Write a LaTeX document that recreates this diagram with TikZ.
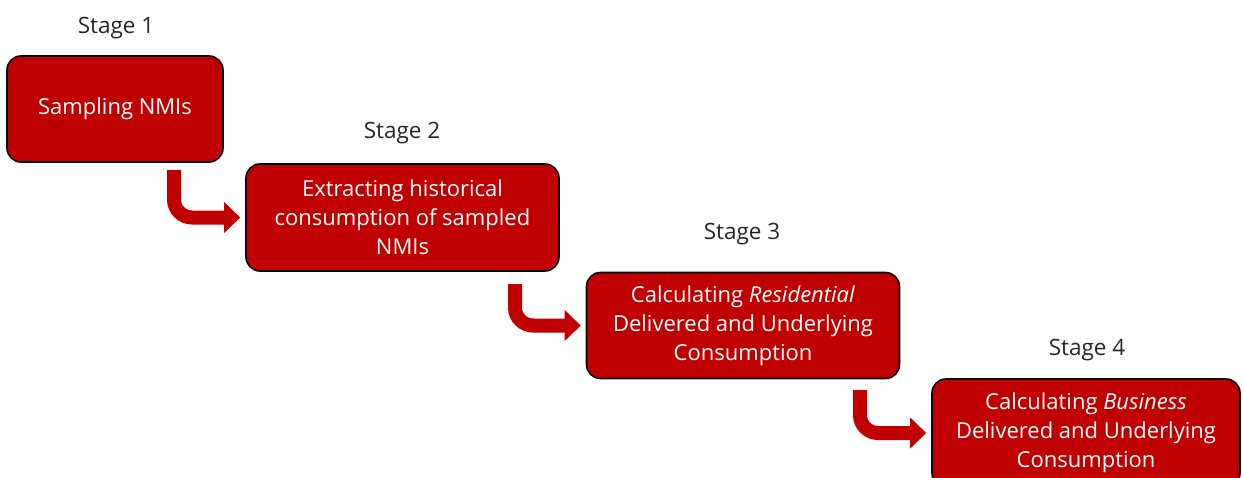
\documentclass[tikz,border=0pt]{standalone}
\usepackage{fontspec}
\setmainfont{Open Sans}
\usetikzlibrary{arrows.meta,calc}
\definecolor{boxred}{HTML}{C00000}
\definecolor{stagegray}{HTML}{262626}
\begin{document}
\begin{tikzpicture}[x=1pt,y=-1pt,
  stagebox/.style={draw=black, line width=1.6pt, fill=boxred, rounded corners=14pt,
    text=white, align=center, inner sep=0pt,
    font=\fontsize{22}{29}\selectfont},
  stagelabel/.style={text=stagegray, font=\fontsize{22.5}{26}\selectfont, inner sep=0pt},
  bentarrow/.style={draw=boxred, line width=14pt, rounded corners=18pt,
    -{Triangle[width=30pt,length=16pt]}}]
\useasboundingbox (0,0) rectangle (1243,477);
\clip (0,0) rectangle (1243,477);
\node[stagebox, minimum width=216pt, minimum height=106pt] (b1) at (115,109) {Sampling NMIs};
\node[stagebox, minimum width=313pt, minimum height=107pt] (b2) at (402.5,217.5) {Extracting historical\\consumption of sampled\\NMIs};
\node[stagebox, minimum width=313pt, minimum height=106pt] (b3) at (743,325.5) {Calculating \textit{Residential}\\Delivered and Underlying\\Consumption};
\node[stagebox, minimum width=308pt, minimum height=108pt] (b4) at (1086,433) {Calculating \textit{Business}\\Delivered and Underlying\\Consumption};
\node[stagelabel] (s1) at (116,28) {Stage 1};
\node[stagelabel] (s2) at (402,133) {Stage 2};
\node[stagelabel] (s3) at (742,234) {Stage 3};
\node[stagelabel] (s4) at (1087,350) {Stage 4};
\coordinate (a1s) at (174,170);
\coordinate (a2s) at (515,284);
\coordinate (a3s) at (860,390);
\draw[bentarrow] (a1s) |- ($(b2.west)+(-5,0)$);
\draw[bentarrow] (a2s) |- ($(b3.west)+(-5,0)$);
\draw[bentarrow] (a3s) |- ($(b4.west)+(-5,0)$);
\end{tikzpicture}
\end{document}
